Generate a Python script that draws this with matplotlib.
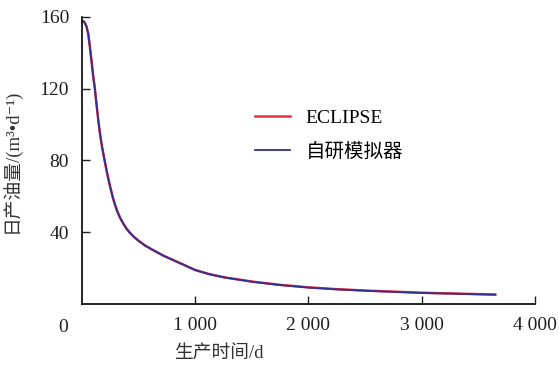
import matplotlib
matplotlib.use("Agg")
import matplotlib.pyplot as plt

plt.rcParams['font.family'] = ['Liberation Serif', 'Noto Sans CJK SC', 'DejaVu Serif']

# production time (d) and daily oil rate (m3/d)
days = [0, 10, 20, 30, 44, 58, 73, 88, 103, 117, 132, 147, 160, 175, 191, 206,
        228, 250, 280, 309, 340, 367, 395, 426, 460, 500, 560, 632, 720, 808,
        900, 1000, 1130, 1264, 1518, 1750, 2000, 2250, 2510, 3000, 3650]
eclipse_rate = [157.4, 157.6, 157.3, 156.5, 154.4, 150.7, 143.3, 135.0, 126.6,
                120.0, 111.0, 102.5, 96.0, 89.5, 83.9, 79.0, 72.0, 65.8,
                58.3, 52.6, 48.0, 44.9, 42.1, 39.7, 37.5, 35.4, 32.6, 30.0,
                27.0, 24.5, 21.9, 19.0, 16.6, 14.8, 12.4, 10.7, 9.3, 8.3,
                7.5, 6.3, 5.3]
sim_rate = [157.4, 157.6, 157.3, 156.5, 154.4, 150.7, 143.3, 135.0, 126.6,
            120.0, 111.0, 102.5, 96.0, 89.5, 83.9, 79.0, 72.0, 65.8,
            58.3, 52.6, 48.0, 44.9, 42.1, 39.7, 37.5, 35.4, 32.6, 30.0,
            27.0, 24.5, 21.9, 19.0, 16.6, 14.8, 12.3, 10.6, 9.2, 8.2,
            7.4, 6.2, 5.2]

xticks = [1000, 2000, 3000, 4000]
xtick_labels = ["1 000", "2 000", "3 000", "4 000"]
yticks = [40, 80, 120, 160]

fig = plt.figure(figsize=(5.59, 3.74), dpi=100)
ax = fig.add_axes([0.146, 0.187, 0.811, 0.768])

ax.plot(days, eclipse_rate, color='#e8303a', lw=1.8, label='ECLIPSE')
ax.plot(days, sim_rate, color='#2e3192', lw=1.3, label='自研模拟器')

ax.set_xlim(0, 4000)
ax.set_ylim(0, 160)
ax.set_xticks(xticks)
ax.set_xticklabels(xtick_labels)
ax.set_yticks(yticks)
ax.tick_params(direction='in', length=6, width=1, labelsize=14, colors='#231f20')
ax.tick_params(axis='x', pad=9)
ax.tick_params(axis='y', pad=9)
for side in ['top', 'right']:
    ax.spines[side].set_visible(False)
for side in ['left', 'bottom']:
    ax.spines[side].set_linewidth(1.2)

ax.annotate('0', xy=(0, 0), xytext=(-13.5, -17), textcoords='offset points',
            ha='center', va='center', fontsize=14, color='#231f20',
            annotation_clip=False)

ax.set_xlabel('生产时间/d', fontsize=13.5, color='#333333')
ax.xaxis.set_label_coords(0.303, -0.145)
ax.set_ylabel('日产油量/(m³•d⁻¹)', fontsize=13.5, color='#333333')
ax.yaxis.set_label_coords(-0.135, 0.5)

ax.legend(loc='upper left', bbox_to_anchor=(255 / 559, 1 - 109 / 374),
          bbox_transform=fig.transFigure, frameon=False, fontsize=14,
          handlelength=1.8, handletextpad=0.8, labelspacing=0.85,
          borderpad=0, borderaxespad=0)

fig.savefig('out.png', dpi=100)
